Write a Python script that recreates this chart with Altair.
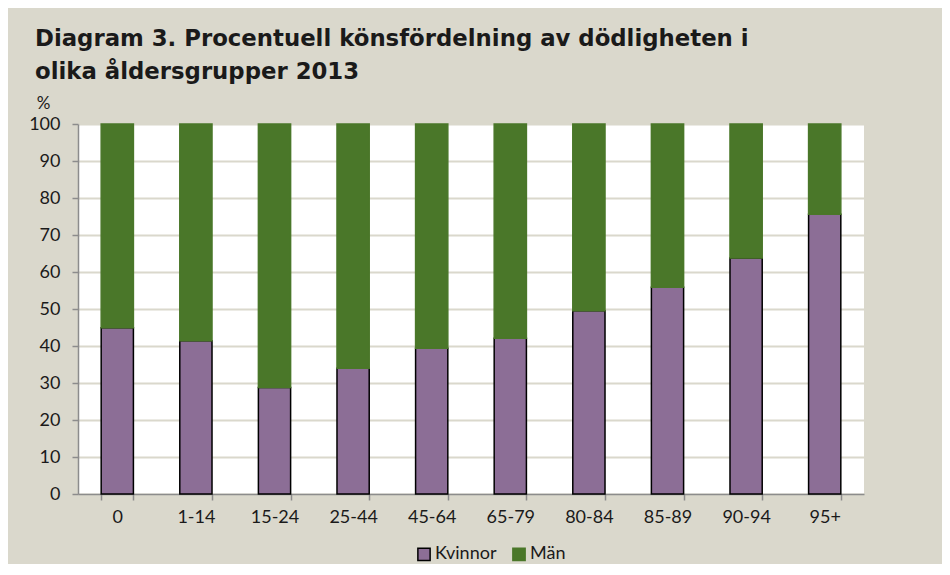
import altair as alt
import pandas as pd

categories = ["0", "1-14", "15-24", "25-44", "45-64", "65-79", "80-84", "85-89", "90-94", "95+"]
kvinnor = [44.9, 41.4, 28.8, 34.0, 39.4, 42.1, 49.5, 55.9, 63.8, 75.6]
man = [55.1, 58.6, 71.2, 66.0, 60.6, 57.9, 50.5, 44.1, 36.2, 24.4]
series = ["Kvinnor", "Män"]

rows = []
for c, k, m in zip(categories, kvinnor, man):
    rows.append({"Ålder": c, "Kön": series[0], "Andel": k, "ord": 0})
    rows.append({"Ålder": c, "Kön": series[1], "Andel": m, "ord": 1})
df = pd.DataFrame(rows)

BG = "#DAD8CC"
LABEL_FONT = "Lato"

legend_opts = dict(
    title=None, orient="none", legendX=337, legendY=421,
    direction="horizontal", symbolType="square", symbolSize=150,
    symbolStrokeWidth=1.5, labelOffset=2, columnPadding=12,
)

chart = (
    alt.Chart(df)
    .mark_bar(strokeWidth=1.5)
    .encode(
        x=alt.X(
            "Ålder:N",
            sort=categories,
            scale=alt.Scale(paddingInner=0.59, paddingOuter=0.295),
            axis=alt.Axis(
                title=None, labelAngle=0, tickBand="extent", tickSize=6,
                labelPadding=8, domainColor="#8C8C8C", tickColor="#8C8C8C",
                domainWidth=1.5, tickWidth=1.5, grid=False,
            ),
        ),
        y=alt.Y(
            "Andel:Q",
            stack="zero",
            scale=alt.Scale(domain=[0, 100], nice=False),
            axis=alt.Axis(
                values=list(range(0, 101, 10)), title="%", titleAngle=0,
                titleX=-35, titleY=-21, titleAlign="center", titleBaseline="middle",
                titleFont=LABEL_FONT, titleFontSize=17, titleFontWeight="normal",
                titleColor="#1a1a1a",
                tickSize=6, labelPadding=12, domainColor="#8C8C8C", tickColor="#8C8C8C",
                domainWidth=1.5, tickWidth=1.5, gridColor=BG, gridWidth=2,
            ),
        ),
        color=alt.Color(
            "Kön:N",
            scale=alt.Scale(domain=series, range=["#8C6E96", "#4A7729"]),
            legend=alt.Legend(**legend_opts),
        ),
        stroke=alt.Stroke(
            "Kön:N",
            scale=alt.Scale(domain=series, range=["#000000", "#4A7729"]),
            legend=alt.Legend(**legend_opts),
        ),
        order=alt.Order("ord:Q"),
    )
    .properties(
        width=786,
        height=370,
        title=alt.TitleParams(
            text=["Diagram 3. Procentuell könsfördelning av dödligheten i", "olika åldersgrupper 2013"],
            anchor="start", frame="group", dx=-43, dy=50, offset=37, baseline="bottom",
            font="DejaVu Sans", fontSize=22.8, fontWeight="bold", color="#1a1a1a", lineHeight=33,
        ),
        padding={"left": 70, "top": 116, "right": 78, "bottom": 70},
        autosize=alt.AutoSizeParams(type="none"),
        background=BG,
    )
    .configure_view(fill="white", stroke=None)
    .configure_axis(labelFont=LABEL_FONT, labelFontSize=18, labelColor="#1a1a1a")
    .configure_legend(labelFont=LABEL_FONT, labelFontSize=18, labelColor="#1a1a1a")
)

chart.save("out.html", embed_options={"renderer": "svg", "actions": False})
